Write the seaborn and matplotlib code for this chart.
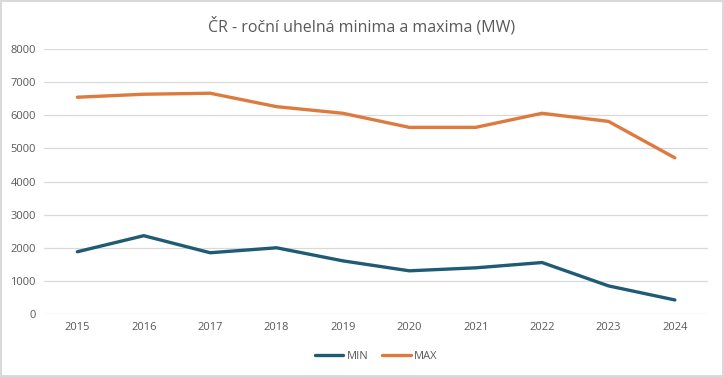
import numpy as np
import pandas as pd
import matplotlib
matplotlib.use("Agg")
import matplotlib.pyplot as plt
import seaborn as sns

# hodnoty (MW)
roky = [2015, 2016, 2017, 2018, 2019, 2020, 2021, 2022, 2023, 2024]
minima = [1880, 2365, 1850, 2000, 1605, 1305, 1395, 1555, 850, 425]
maxima = [6545, 6635, 6665, 6260, 6060, 5635, 5635, 6060, 5815, 4715]

sns.set_style("white")
plt.rcParams['font.family'] = ['Open Sans', 'DejaVu Sans']

df = pd.DataFrame({
    'rok': [str(r) for r in roky] * 2,
    'MW': minima + maxima,
    'serie': ['MIN'] * len(roky) + ['MAX'] * len(roky),
})

fig = plt.figure(figsize=(7.24, 3.77), dpi=100)
fig.patch.set_edgecolor('#d9d9d9')
fig.patch.set_linewidth(1.5)
ax = fig.add_axes([0.061, 0.167, 0.917, 0.703])

sns.lineplot(data=df, x='rok', y='MW', hue='serie', sort=False,
             palette={'MIN': '#1f5b74', 'MAX': '#dd7a3d'},
             linewidth=2.4, ax=ax, legend=True)

ax.set_ylim(0, 8000)
ax.set_yticks(np.arange(0, 8001, 1000))
ax.set_xlim(-0.5, len(roky) - 0.5)
ax.grid(axis='y', color='#d9d9d9', linewidth=0.9)
ax.set_axisbelow(True)
for s in ax.spines.values():
    s.set_visible(False)
ax.tick_params(axis='both', length=0, labelsize=8, colors='#595959', pad=6)
ax.set_xlabel('')
ax.set_ylabel('')

fig.suptitle('ČR - roční uhelná minima a maxima (MW)', y=0.955,
             fontsize=11.5, color='#595959')

ax.legend(loc='upper center', bbox_to_anchor=(0.5, -0.1), ncol=2,
          frameon=False, fontsize=8, labelcolor='#595959',
          handlelength=2.6, handletextpad=0.3, columnspacing=1.2)

fig.savefig('out.png', dpi=100)
